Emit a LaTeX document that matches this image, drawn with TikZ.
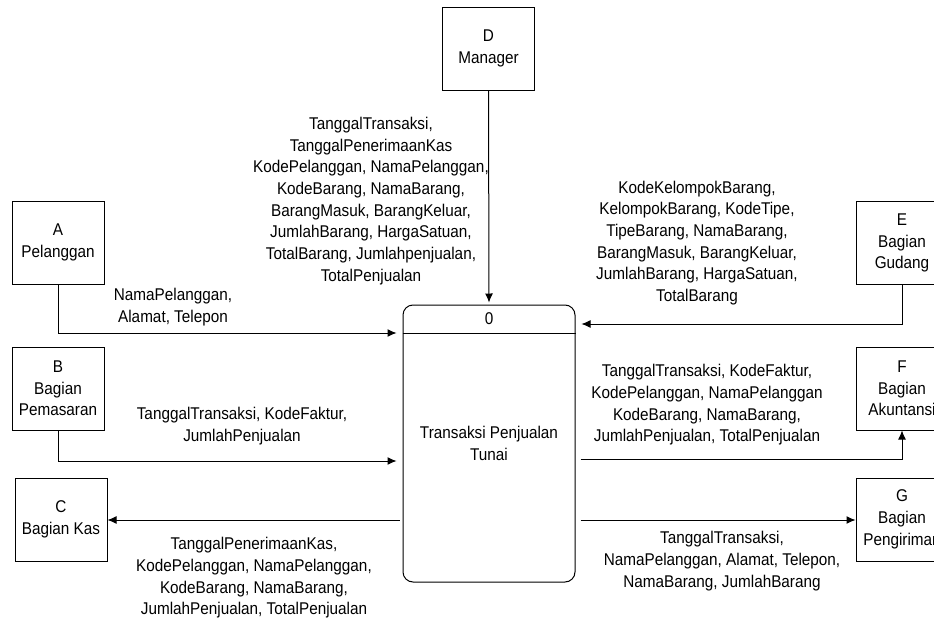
\documentclass[tikz,border=0pt]{standalone}
\usepackage{fontspec}
\setmainfont{Liberation Sans}[FakeStretch=0.9]
\usetikzlibrary{arrows.meta}
\begin{document}
\begin{tikzpicture}[x=1pt,y=-1pt,
  every node/.style={font=\fontsize{17}{21.7}\selectfont},
  ent/.style={draw, line width=1pt, minimum width=92pt, minimum height=83pt, align=center, inner sep=0pt},
  lbl/.style={align=center, inner sep=0pt},
  flow/.style={line width=1pt, -{Latex[length=9pt,width=8pt]}},
  plain/.style={line width=1pt}]
\useasboundingbox (0,0) rectangle (934,621);
\clip (0,0) rectangle (934,621);
% entities
\node[ent] (A) at (58,242.5) {A\\Pelanggan};
\node[ent] (B) at (58,388.5) {B\\Bagian\\Pemasaran};
\node[ent] (C) at (61,519.5) {C\\Bagian Kas};
\node[ent] (D) at (488.5,48.5) {D\\Manager};
\node[ent] (E) at (902,243) {E\\Bagian\\Gudang};
\node[ent] (F) at (902,388.5) {F\\Bagian\\Akuntansi};
\node[ent] (G) at (902,519.5) {G\\Bagian\\Pengiriman};
% process
\node[draw, line width=1pt, rounded corners=10pt, minimum width=172pt, minimum height=277pt, inner sep=0pt] (P) at (489,443.5) {};
\node[lbl] (Pt) at (489,443.5) {Transaksi Penjualan\\Tunai};
\node[lbl] (P0) at (489,319) {0};
\coordinate (dv) at (0,333);
\draw[plain] (P.west |- dv) -- (P.east |- dv);
% flows
\coordinate (a1) at (0,333);
\coordinate (b1) at (0,461);
\coordinate (e1) at (0,324);
\coordinate (f1) at (0,459);
\coordinate (c1) at (0,520);
\draw[flow] (D.south) -- ([yshift=2pt]P.north);
\draw[flow] (A.south) |- ([xshift=-6pt]P.west |- a1);
\draw[flow] (B.south) |- ([xshift=-6pt]P.west |- b1);
\draw[flow] (E.south) |- ([xshift=6pt]P.east |- e1);
\draw[flow] ([xshift=5pt]P.east |- f1) -| (F.south);
\draw[flow] ([xshift=-3pt]P.west |- c1) -- (C.east |- c1);
\draw[flow] ([xshift=5pt]P.east |- c1) -- (G.west |- c1);
% labels
\node[lbl] (ld) at (371,201) {TanggalTransaksi,\\TanggalPenerimaanKas\\KodePelanggan, NamaPelanggan,\\KodeBarang, NamaBarang,\\BarangMasuk, BarangKeluar,\\JumlahBarang, HargaSatuan,\\TotalBarang, Jumlahpenjualan,\\TotalPenjualan};
\node[lbl] (le) at (697,243) {KodeKelompokBarang,\\KelompokBarang, KodeTipe,\\TipeBarang, NamaBarang,\\BarangMasuk, BarangKeluar,\\JumlahBarang, HargaSatuan,\\TotalBarang};
\node[lbl] (lf) at (707,405) {TanggalTransaksi, KodeFaktur,\\KodePelanggan, NamaPelanggan\\KodeBarang, NamaBarang,\\JumlahPenjualan, TotalPenjualan};
\node[lbl] (la) at (173,307) {NamaPelanggan,\\Alamat, Telepon};
\node[lbl] (lb) at (242,426) {TanggalTransaksi, KodeFaktur,\\JumlahPenjualan};
\node[lbl] (lc) at (254,578) {TanggalPenerimaanKas,\\KodePelanggan, NamaPelanggan,\\KodeBarang, NamaBarang,\\JumlahPenjualan, TotalPenjualan};
\node[lbl] (lg) at (722,561) {TanggalTransaksi,\\NamaPelanggan, Alamat, Telepon,\\NamaBarang, JumlahBarang};
\end{tikzpicture}
\end{document}
